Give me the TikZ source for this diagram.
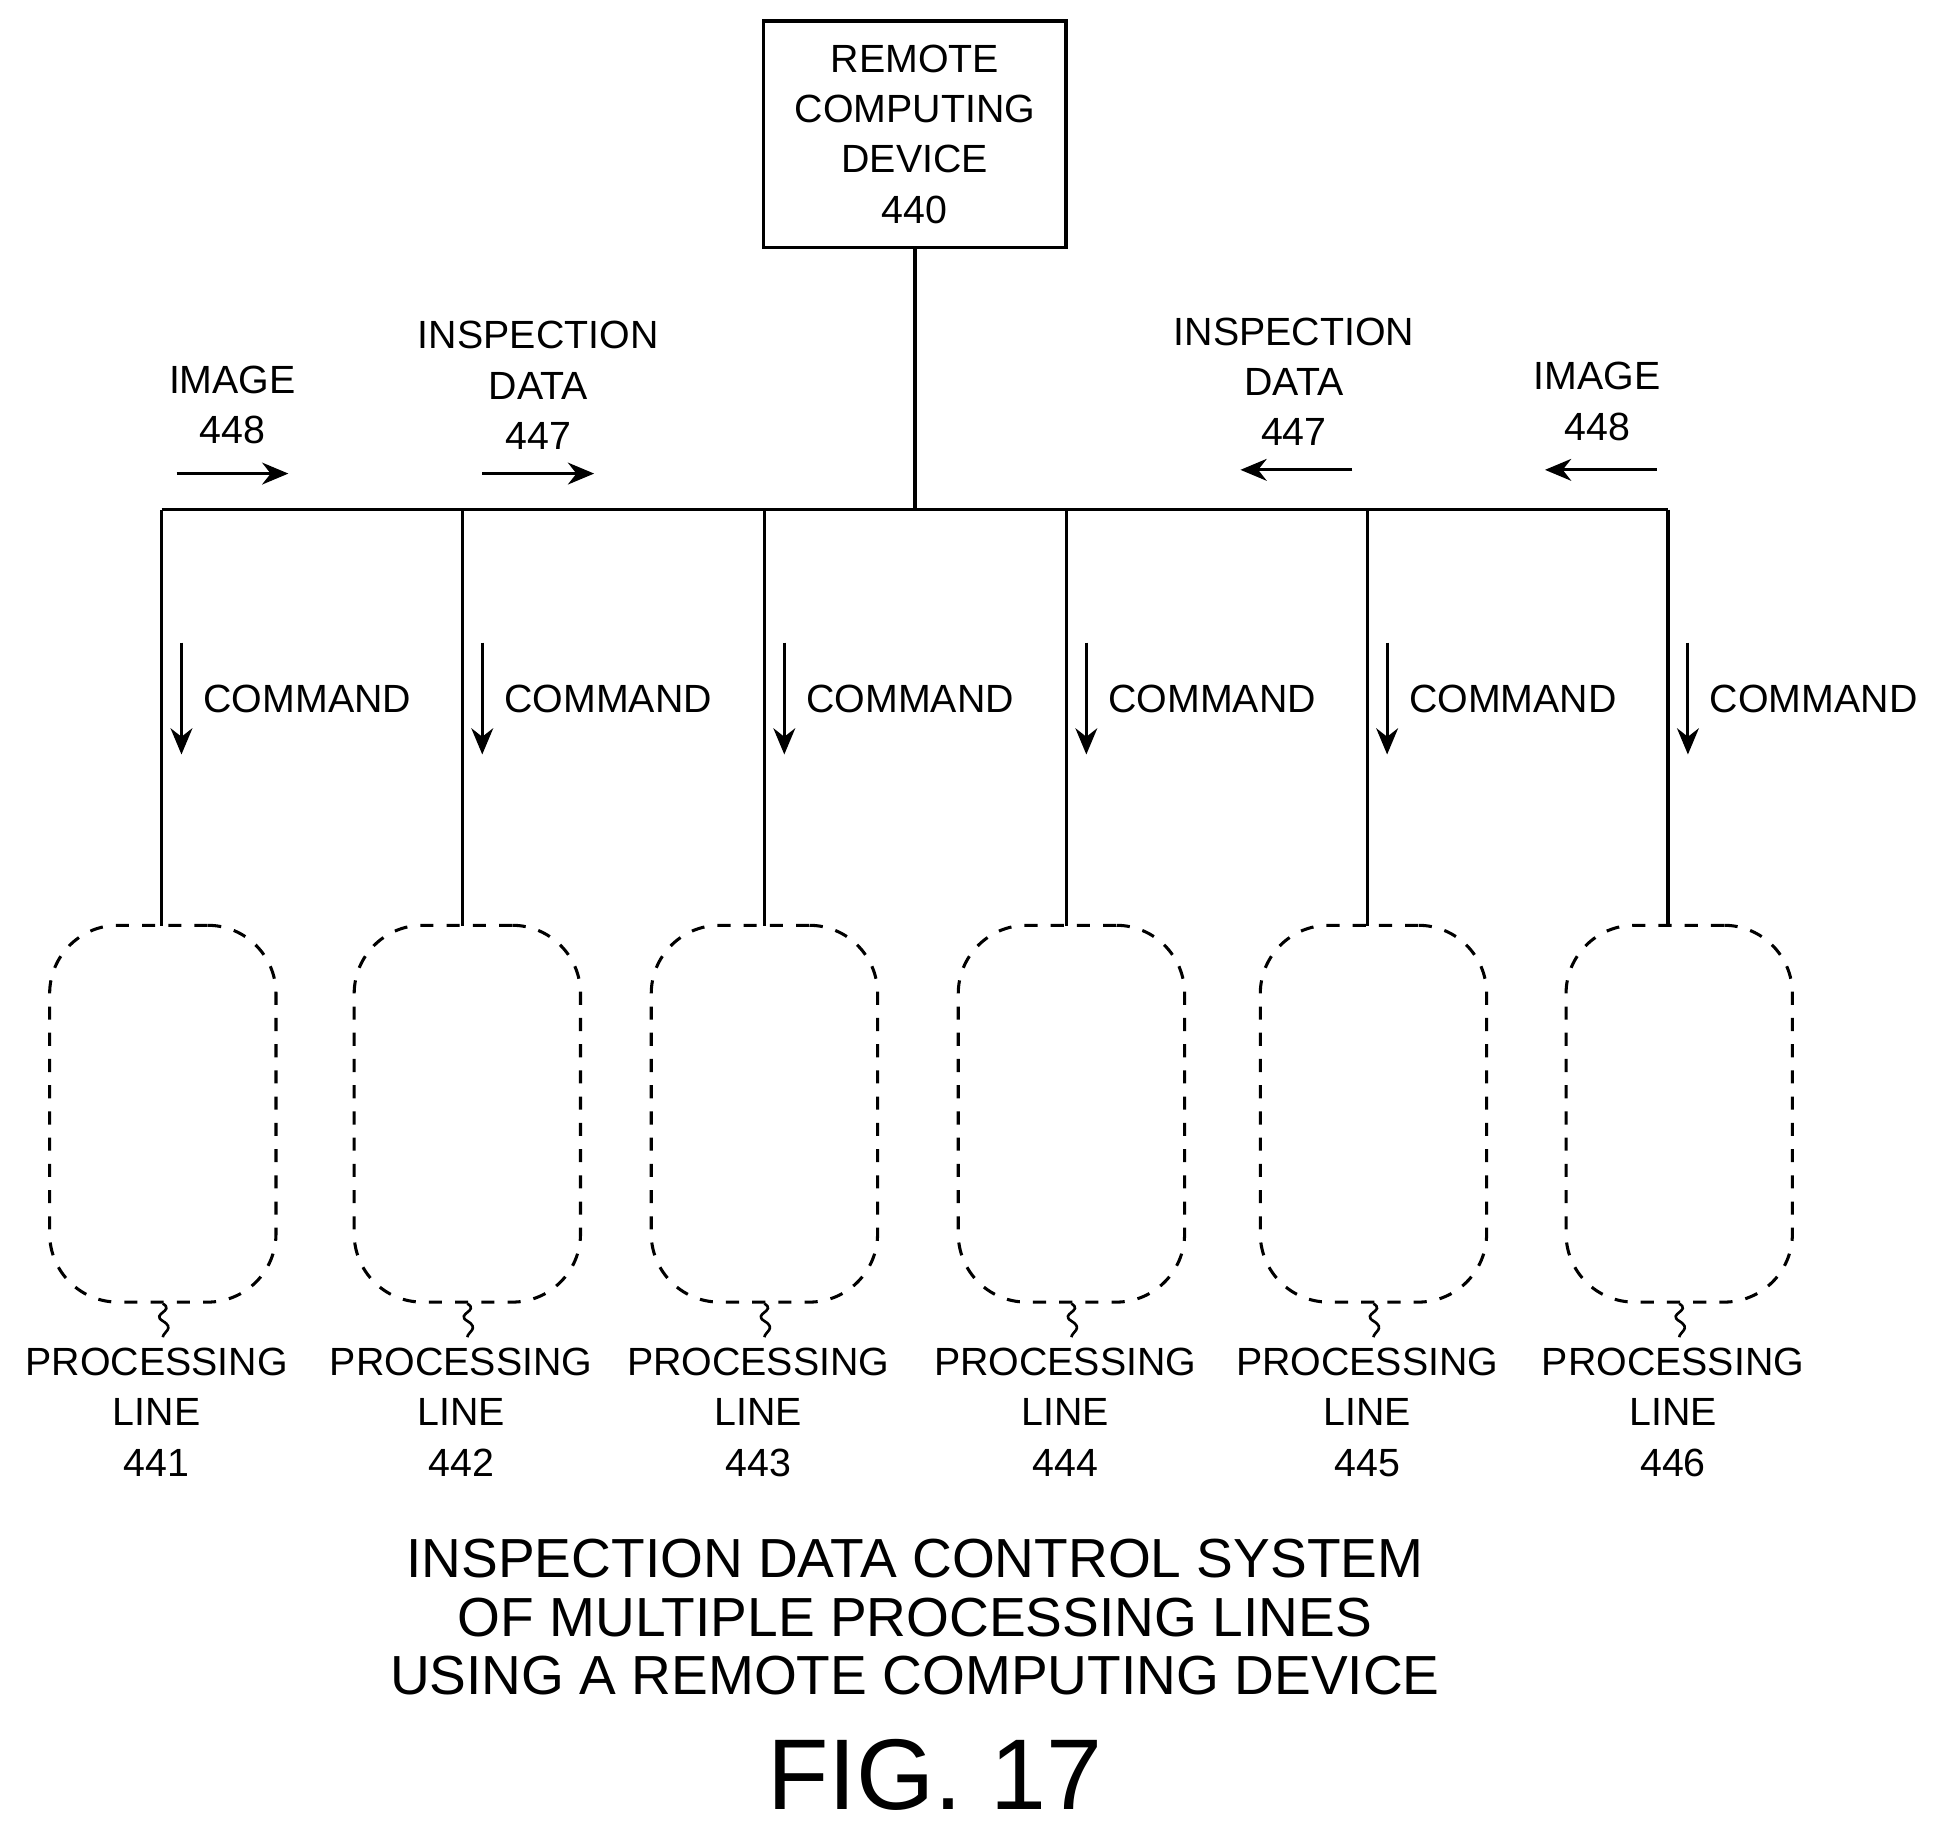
\documentclass[tikz,border=0pt]{standalone}
\usepackage{fontspec}
\setmainfont{Liberation Sans}
\usetikzlibrary{arrows.meta}
\begin{document}
\begin{tikzpicture}[x=0.01cm,y=-0.01cm,
  lbl/.style={align=center,font=\fontsize{9}{11.5}\selectfont,inner sep=0pt},
  line/.style={draw,dashed,rounded corners=0.55cm,minimum width=1.82cm,minimum height=3.03cm,line width=0.7pt},
  flow/.style={-{Stealth[length=6pt,width=5pt]},line width=0.7pt}]
\useasboundingbox (0,0) rectangle (1560,1469);
\node[draw,line width=0.8pt,minimum width=2.43cm,minimum height=1.82cm,lbl] (rcd) at (736,108)
  {REMOTE\\COMPUTING\\DEVICE\\440};
\coordinate (hub) at (736,410);
\draw[line width=0.8pt] (rcd.south) -- (hub);
\draw[line width=0.8pt] (130,410) coordinate (busl) -- (1342,410) coordinate (busr);
% processing lines
\foreach \i/\x/\bx in {1/130/131,2/372/376,3/615/615,4/858/862,5/1100/1105,6/1342/1351}{
  \node[line] (pl\i) at (\bx,896) {};
  \draw[line width=0.8pt] (\x,410) -- (\x,745);
  \draw[flow] (\x+16,517) -- (\x+16,607);
  \node[lbl,anchor=west] (cmd\i) at (\x+33,562) {COMMAND};
  \draw[line width=0.6pt] (pl\i.south) .. controls +(10,6) and +(-10,-6) .. ++(0,14) .. controls +(10,6) and +(0,-4) .. ++(0,13) coordinate (sq\i);
  \node[lbl,anchor=north] (lab\i) at (\bx-5,1084) {PROCESSING\\LINE\\44\i};
}
% flow labels
\node[lbl] (img1) at (187,326) {IMAGE\\448};
\node[lbl] (ins1) at (433,310) {INSPECTION\\DATA\\447};
\node[lbl] (ins2) at (1041,307) {INSPECTION\\DATA\\447};
\node[lbl] (img2) at (1285,323) {IMAGE\\448};
\draw[flow] (142,381) -- (232,381);
\draw[flow] (388,381) -- (478,381);
\draw[flow] (1088,378) -- (998,378);
\draw[flow] (1333,378) -- (1243,378);
% caption
\node[lbl,font=\fontsize{12.6}{13.3}\selectfont] (title) at (736,1301)
  {INSPECTION DATA CONTROL SYSTEM\\OF MULTIPLE PROCESSING LINES\\USING A REMOTE COMPUTING DEVICE};
\node[lbl,font=\fontsize{23}{26}\selectfont] (fig) at (752,1428) {FIG. 17};
\end{tikzpicture}
\end{document}
